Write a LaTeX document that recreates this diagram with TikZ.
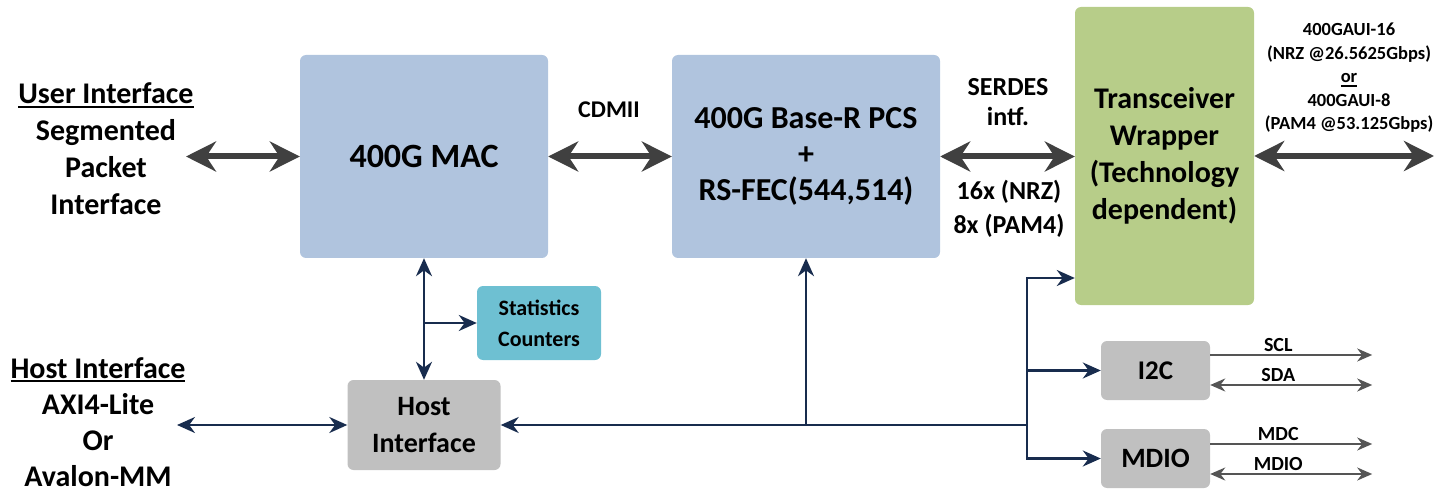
\documentclass[tikz,border=0pt]{standalone}
\usepackage{fontspec}
\setmainfont{Carlito}
\usetikzlibrary{arrows.meta, positioning}

\definecolor{macblue}{RGB}{176,196,222}
\definecolor{xcvrgreen}{RGB}{183,205,137}
\definecolor{statcyan}{RGB}{110,192,210}
\definecolor{boxgrey}{RGB}{192,192,192}
\definecolor{ctlnavy}{RGB}{24,44,78}
\definecolor{fatgrey}{RGB}{64,64,64}
\definecolor{siggrey}{RGB}{85,85,85}

\newcommand{\undl}[1]{\setbox0=\hbox{#1}\rlap{\rule[-4pt]{\wd0}{2pt}}\box0}
\newcommand{\fsz}[2]{\bfseries\fontsize{#1}{#2}\selectfont}

\begin{document}
\begin{tikzpicture}[x=1pt, y=-1pt,
    blk/.style={rounded corners=6pt, inner sep=0pt, align=center, font=\fsz{34}{41}},
    lbl/.style={align=center, inner sep=0pt, font=\fsz{30}{37}},
    fatarrow/.style={{Stealth[length=30pt,width=30pt]}-{Stealth[length=30pt,width=30pt]}, line width=6pt, fatgrey},
    ctl/.style={->, >={Stealth[length=18pt,width=16pt]}, line width=2.5pt, ctlnavy},
    sig/.style={->, >={Stealth[length=15pt,width=13pt]}, line width=2pt, siggrey},
    sigtext/.style={font=\fsz{20}{22}, text=black, inner sep=2pt}]
  \useasboundingbox (0,0) rectangle (1450,494);

  % blocks
  \node[blk, fill=macblue, minimum width=248pt, minimum height=203pt] (mac) at (424,156.5) {400G MAC};
  \node[blk, fill=macblue, minimum width=268pt, minimum height=203pt, font=\fsz{32}{36}] (pcs) at (806,156.5)
    {400G Base-R PCS\\+\\RS-FEC(544,514)};
  \node[blk, fill=xcvrgreen, minimum width=179pt, minimum height=298pt, font=\fsz{30}{37}] (xcvr) at (1164.5,156)
    {Transceiver\\Wrapper\\(Technology\\dependent)};
  \node[blk, fill=statcyan, minimum width=124pt, minimum height=74pt, font=\fsz{22}{31}] (stats) at (539,323)
    {Statistics\\Counters};
  \node[blk, fill=boxgrey, minimum width=153pt, minimum height=90pt, font=\fsz{28}{37}] (host) at (424,425)
    {Host\\Interface};
  \node[blk, fill=boxgrey, minimum width=109pt, minimum height=59pt, font=\fsz{27}{30}] (i2c) at (1155.5,370.5) {I2C};
  \node[blk, fill=boxgrey, minimum width=109pt, minimum height=59pt, font=\fsz{28}{30}] (mdio) at (1155.5,458.5) {MDIO};

  % side texts
  \node[lbl] (user) at (106,149) {\undl{User Interface}\\Segmented\\Packet\\Interface};
  \node[lbl, font=\fsz{30}{36}] (hostif) at (98,422) {\undl{Host Interface}\\AXI4-Lite\\Or\\Avalon-MM};
  \node[lbl, font=\fsz{24}{28}] (cdmii) at (609,110) {CDMII};
  \node[lbl, font=\fsz{26}{30}] (serdes) at (1008,102) {SERDES\\intf.};
  \node[lbl, font=\fsz{26}{34}] (lanes) at (1009,209) {16x (NRZ)\\8x (PAM4)};
  \node[lbl, font=\fsz{18.5}{23.5}] (gaui) at (1349,78)
    {400GAUI-16\\(NRZ @26.5625Gbps)\\\undl{or}\\400GAUI-8\\(PAM4 @53.125Gbps)};

  % data path
  \coordinate (uin) at (186,156.5);
  \coordinate (lineout) at (1434,156);
  \draw[fatarrow] (uin) -- (mac.west);
  \draw[fatarrow] (mac.east) -- (pcs.west);
  \draw[fatarrow] (pcs.east) -- (pcs.east -| xcvr.west);
  \draw[fatarrow] (xcvr.east) -- (lineout);

  % host side control
  \coordinate (hin) at (177,425);
  \coordinate (bus) at (1027,425);
  \coordinate (xlvl) at (0,278);
  \draw[ctl, <->] (hin) -- (host.west);
  \draw[ctl, <->] (mac.south) -- (host.north);
  \draw[ctl] (mac.south |- stats.west) -- (stats.west);
  \draw[ctl] (bus) -- (host.east);
  \draw[ctl] (pcs.south |- bus) -- (pcs.south);
  \draw[ctl] (bus) |- (xcvr.west |- xlvl);
  \draw[ctl] (bus) |- (i2c.west);
  \draw[ctl] (bus) |- (mdio.west);

  % serial pins
  \draw[sig] ([yshift=15.5]i2c.east) -- ++(162,0) node[pos=0.42, above, sigtext] {SCL};
  \draw[sig, <->] ([yshift=-14.5]i2c.east) -- ++(162,0) node[pos=0.42, above, sigtext] {SDA};
  \draw[sig] ([yshift=14.5]mdio.east) -- ++(162,0) node[pos=0.42, above, sigtext] {MDC};
  \draw[sig, <->] ([yshift=-15.5]mdio.east) -- ++(162,0) node[pos=0.42, above, sigtext] {MDIO};
\end{tikzpicture}
\end{document}
